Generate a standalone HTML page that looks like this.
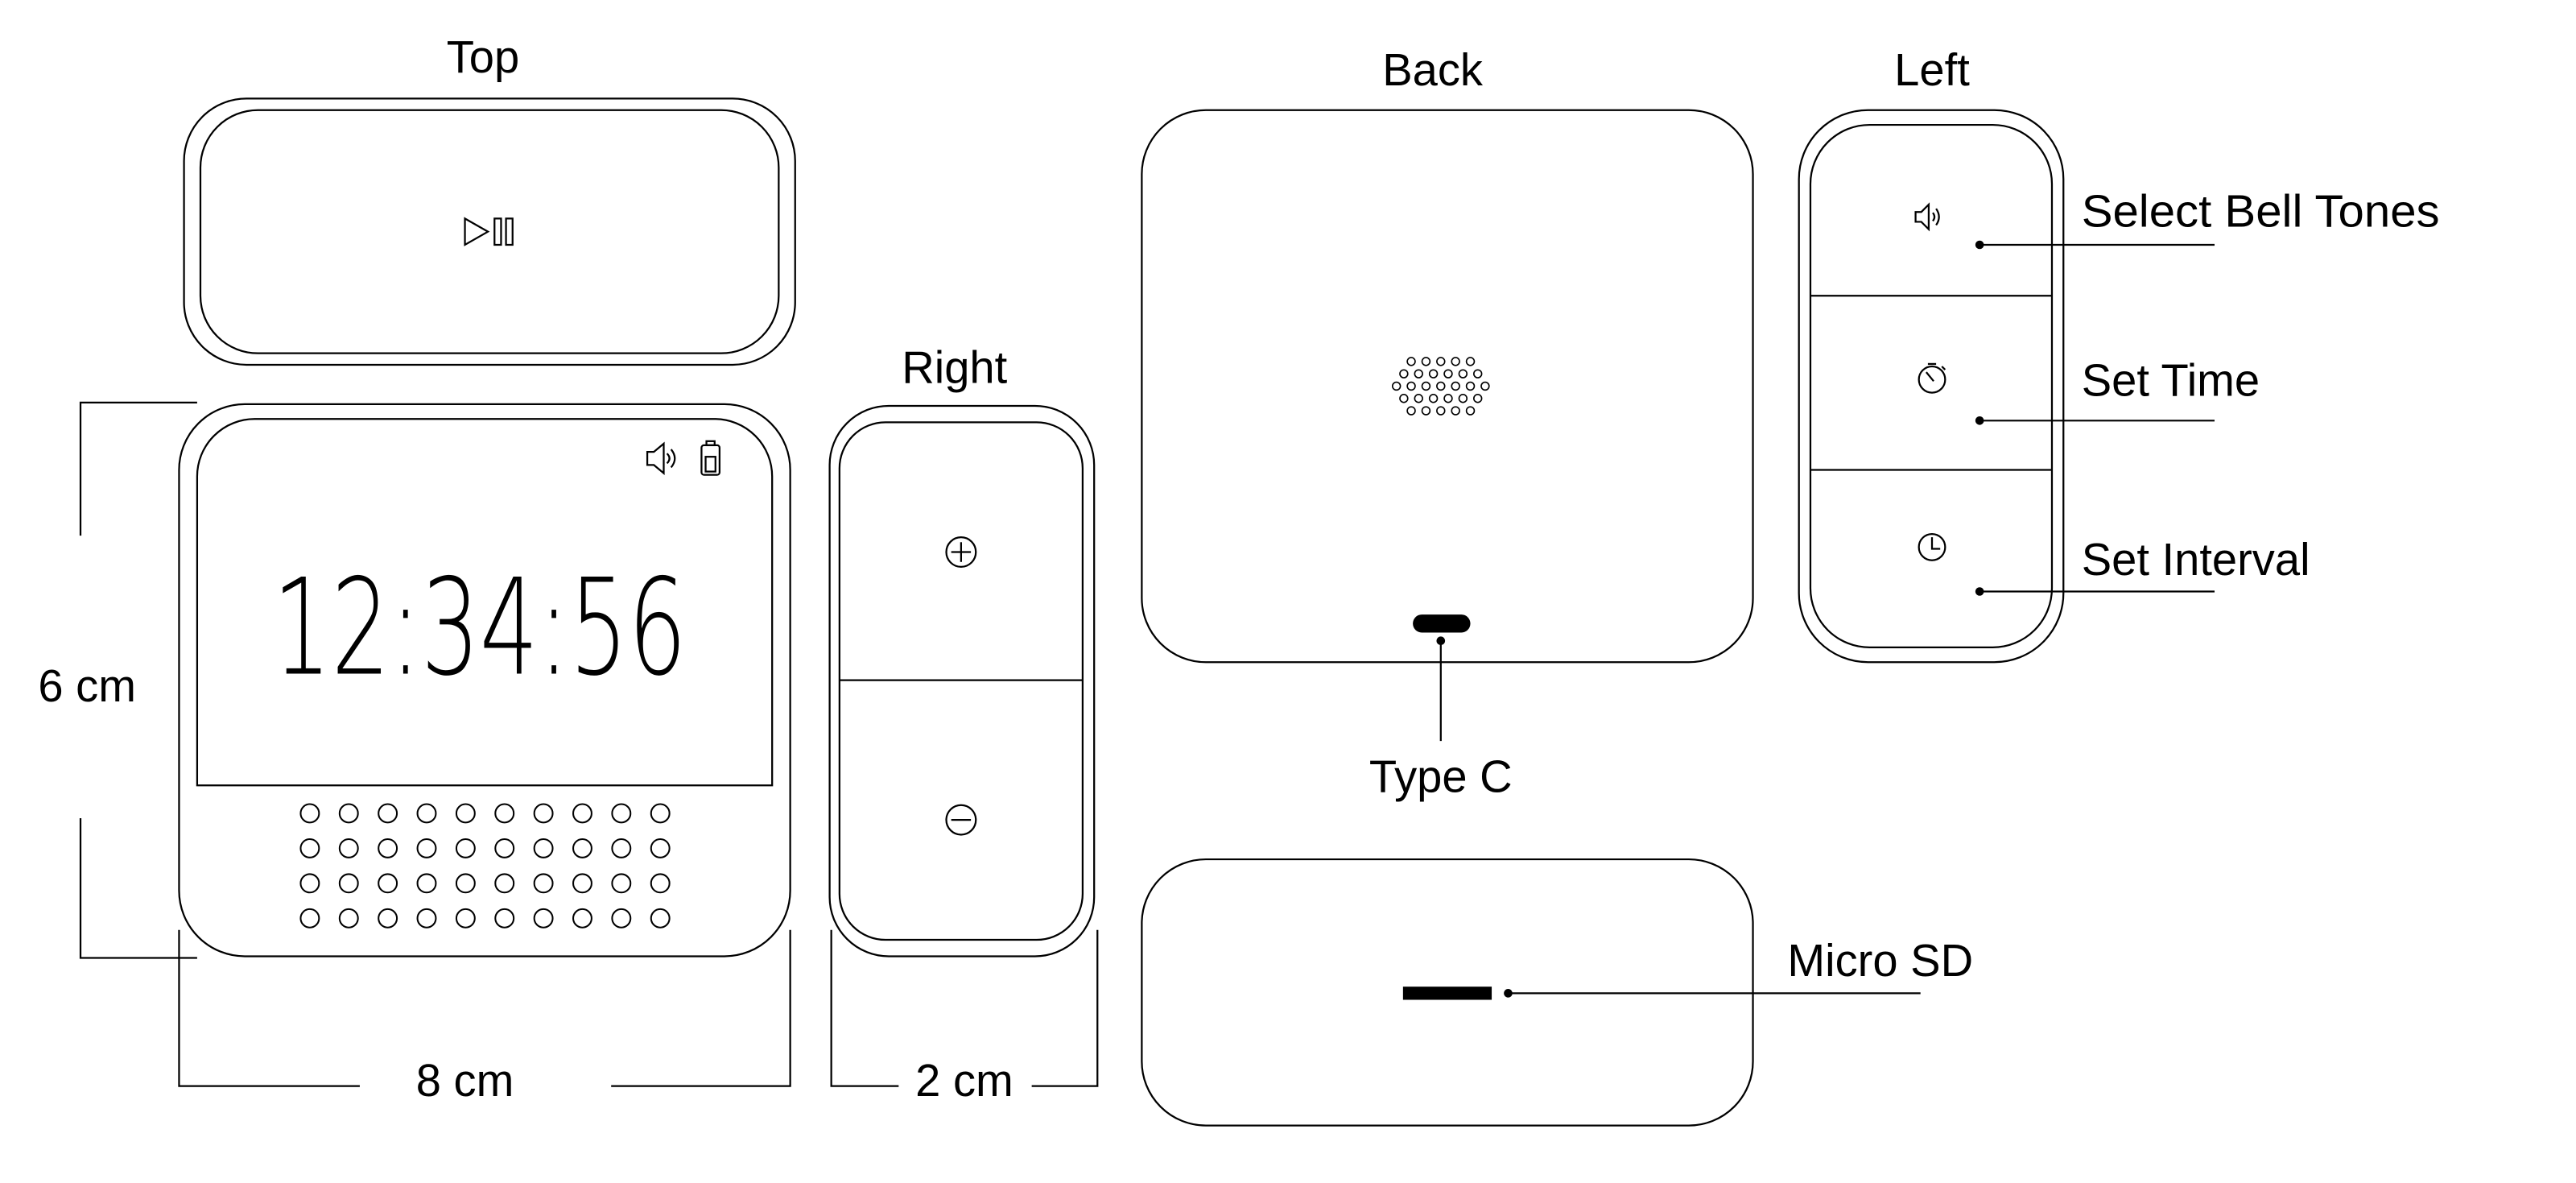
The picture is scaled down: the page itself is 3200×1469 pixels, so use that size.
<!DOCTYPE html>
<html><head><meta charset="utf-8"><style>
html,body{margin:0;padding:0;background:#fff;}
svg{display:block;}
text{font-family:"Liberation Sans",sans-serif;fill:#000;}
</style></head><body>
<svg width="3200" height="1469" viewBox="0 0 1568 720" preserveAspectRatio="none" xmlns="http://www.w3.org/2000/svg">
<g fill="none" stroke="#000" stroke-width="1.1">
<rect x="112" y="60" width="372" height="162" rx="38"/>
<rect x="122" y="67" width="352" height="148" rx="35"/>
<rect x="109" y="246" width="372" height="336" rx="40"/>
<path d="M120 478 V290 A35 35 0 0 1 155 255 H435 A35 35 0 0 1 470 290 V478 Z"/>
<rect x="505" y="247" width="161" height="335" rx="36"/>
<rect x="511" y="257" width="148" height="315" rx="28"/>
<line x1="511" y1="414" x2="659" y2="414"/>
<circle cx="585" cy="336" r="9"/><line x1="579" y1="336" x2="591" y2="336"/><line x1="585" y1="330" x2="585" y2="342"/>
<circle cx="585" cy="499" r="9"/><line x1="579" y1="499" x2="591" y2="499"/>
<rect x="695" y="67" width="372" height="336" rx="39"/>
<rect x="695" y="523" width="372" height="162" rx="39"/>
<rect x="1095" y="67" width="161" height="336" rx="42"/>
<rect x="1102" y="76" width="147" height="318" rx="36"/>
<line x1="1102" y1="180" x2="1249" y2="180"/>
<line x1="1102" y1="286" x2="1249" y2="286"/>
<polyline points="120,245 49,245 49,326"/>
<polyline points="49,498 49,583 120,583"/>
<polyline points="109,566 109,661 219,661"/>
<polyline points="372,661 481,661 481,566"/>
<polyline points="506,566 506,661 547,661"/>
<polyline points="628,661 668,661 668,566"/>
<line x1="877" y1="390" x2="877" y2="451"/>
<line x1="918" y1="604.5" x2="1169" y2="604.5"/>
<line x1="1205" y1="149" x2="1348" y2="149"/>
<line x1="1205" y1="256" x2="1348" y2="256"/>
<line x1="1205" y1="360" x2="1348" y2="360"/>
<path d="M283 133 L297 141 L283 149 Z"/>
<rect x="301" y="133" width="4" height="16"/>
<rect x="308" y="133" width="4" height="16"/>
<path d="M394 275 H398 L404 270 V288 L398 283 H394 Z"/>
<path d="M406 276 Q409 279 406 282"/><path d="M408.5 273.5 Q413 279 408.5 284.5"/>
<rect x="427" y="271" width="11" height="18" rx="1.5"/>
<rect x="430" y="268.5" width="5" height="2.5"/>
<rect x="429.5" y="278" width="6" height="9"/>
<path d="M1166 129 H1169.5 L1174 124.5 V139.5 L1169.5 135 H1166 Z"/>
<path d="M1176.5 129.5 Q1178.5 132 1176.5 134.5"/><path d="M1178.5 127 Q1182 132 1178.5 137"/>
<circle cx="1176" cy="231" r="8"/>
<line x1="1172.5" y1="226.5" x2="1177" y2="232"/>
<line x1="1173.5" y1="221.5" x2="1178.5" y2="221.5"/>
<line x1="1182" y1="223" x2="1184" y2="225"/>
<circle cx="1176" cy="333" r="8"/>
<polyline points="1176,327 1176,334 1181,334"/>
</g>
<g fill="#000">
<rect x="860" y="374" width="35" height="11" rx="5.5"/>
<circle cx="877" cy="390" r="2.6"/>
<rect x="854" y="600.5" width="54" height="8"/>
<circle cx="918" cy="604.5" r="2.6"/>
<circle cx="1205" cy="149" r="2.6"/>
<circle cx="1205" cy="256" r="2.6"/>
<circle cx="1205" cy="360" r="2.6"/>
</g>
<g fill="none" stroke="#000" stroke-width="1">
<g id="r">
<circle cx="188.6" cy="495" r="5.6"/><circle cx="212.3" cy="495" r="5.6"/><circle cx="236" cy="495" r="5.6"/><circle cx="259.7" cy="495" r="5.6"/><circle cx="283.4" cy="495" r="5.6"/><circle cx="307.1" cy="495" r="5.6"/><circle cx="330.8" cy="495" r="5.6"/><circle cx="354.5" cy="495" r="5.6"/><circle cx="378.2" cy="495" r="5.6"/><circle cx="401.9" cy="495" r="5.6"/>
</g>
<use href="#r" y="21.3"/><use href="#r" y="42.6"/><use href="#r" y="63.9"/>
</g>
<g fill="none" stroke="#000" stroke-width="0.8">
<circle cx="859" cy="220" r="2.4"/><circle cx="868" cy="220" r="2.4"/><circle cx="877" cy="220" r="2.4"/><circle cx="886" cy="220" r="2.4"/><circle cx="895" cy="220" r="2.4"/>
<circle cx="854.5" cy="227.5" r="2.4"/><circle cx="863.5" cy="227.5" r="2.4"/><circle cx="872.5" cy="227.5" r="2.4"/><circle cx="881.5" cy="227.5" r="2.4"/><circle cx="890.5" cy="227.5" r="2.4"/><circle cx="899.5" cy="227.5" r="2.4"/>
<circle cx="850" cy="235" r="2.4"/><circle cx="859" cy="235" r="2.4"/><circle cx="868" cy="235" r="2.4"/><circle cx="877" cy="235" r="2.4"/><circle cx="886" cy="235" r="2.4"/><circle cx="895" cy="235" r="2.4"/><circle cx="904" cy="235" r="2.4"/>
<circle cx="854.5" cy="242.5" r="2.4"/><circle cx="863.5" cy="242.5" r="2.4"/><circle cx="872.5" cy="242.5" r="2.4"/><circle cx="881.5" cy="242.5" r="2.4"/><circle cx="890.5" cy="242.5" r="2.4"/><circle cx="899.5" cy="242.5" r="2.4"/>
<circle cx="859" cy="250" r="2.4"/><circle cx="868" cy="250" r="2.4"/><circle cx="877" cy="250" r="2.4"/><circle cx="886" cy="250" r="2.4"/><circle cx="895" cy="250" r="2.4"/>
</g>
<text x="166" y="410" font-size="81" textLength="252" lengthAdjust="spacingAndGlyphs" style="font-family:'DejaVu Sans','Liberation Sans',sans-serif;font-weight:300">12:34:56</text>
<g font-size="27.5">
<text x="294" y="44" text-anchor="middle">Top</text>
<text x="581" y="233" text-anchor="middle">Right</text>
<text x="872" y="52" text-anchor="middle">Back</text>
<text x="1176" y="52" text-anchor="middle">Left</text>
<text x="53" y="427" text-anchor="middle">6 cm</text>
<text x="283" y="667" text-anchor="middle">8 cm</text>
<text x="587" y="667" text-anchor="middle">2 cm</text>
<text x="877" y="482" text-anchor="middle">Type C</text>
<text x="1088" y="594">Micro SD</text>
<text x="1267" y="138" textLength="218" lengthAdjust="spacingAndGlyphs">Select Bell Tones</text>
<text x="1267" y="241">Set Time</text>
<text x="1267" y="350">Set Interval</text>
</g>
</svg>
</body></html>
